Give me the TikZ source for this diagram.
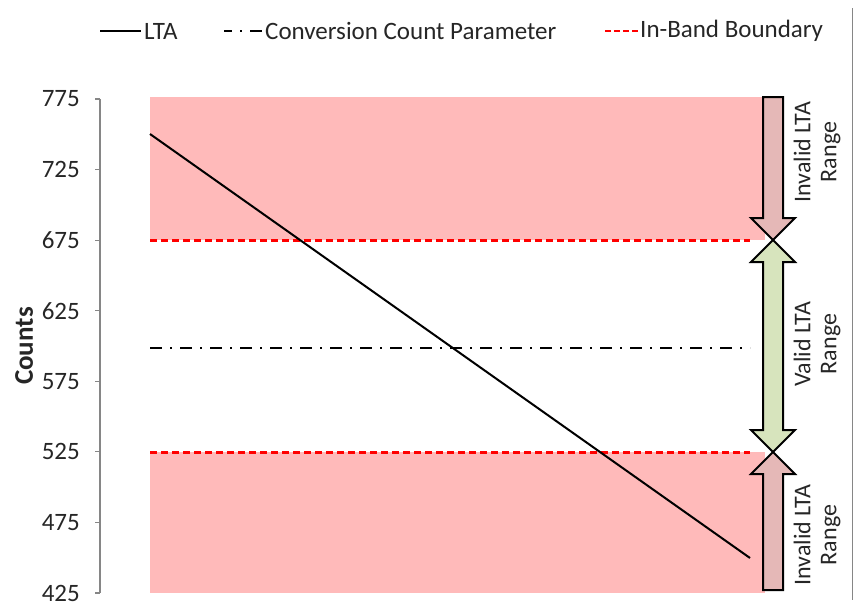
\documentclass[tikz,border=0pt]{standalone}
\usepackage{fontspec}
\setmainfont{Carlito}
\usepackage{tikz}
\pgfdeclarelayer{bg}
\pgfsetlayers{bg,main}
\definecolor{bandpink}{RGB}{255,186,186}
\definecolor{badfill}{RGB}{229,184,183}
\definecolor{goodfill}{RGB}{215,228,189}
\definecolor{axisgray}{RGB}{134,134,134}

\begin{document}
\begin{tikzpicture}[x=1pt, y=-1pt,
    lbl/.style={font=\fontsize{25}{27}\selectfont, inner sep=0pt, text=black!85},
    side/.style={font=\fontsize{24}{26}\selectfont, inner sep=0pt, text=black!85, rotate=90, align=center},
    lta/.style={black, line width=2pt},
    bound/.style={red, line width=3pt, dash pattern=on 7pt off 4pt},
    conv/.style={black, line width=2pt, dash pattern=on 12pt off 8pt on 2pt off 8pt},
    rangearrow/.style={draw=black, line width=2pt, line join=miter}]

    \useasboundingbox (0,0) rectangle (857,606);

    % legend
    \coordinate (k1a) at (100,31);
    \coordinate (k1b) at (141,31);
    \node (klta) [lbl, anchor=west] at (144,31) {LTA};
    \coordinate (k2a) at (224,31);
    \coordinate (k2b) at (262,31);
    \node (kconv) [lbl, anchor=west] at (265,31) {Conversion Count Parameter};
    \coordinate (k3a) at (605,31);
    \coordinate (k3b) at (638,31);
    \node (kband) [lbl, anchor=west] at (640,31) {In-Band Boundary};
    \draw[lta] (k1a) -- (k1b);
    \draw[black, line width=2pt, dash pattern=on 8pt off 8pt on 2pt off 8pt on 12pt off 20pt] (k2a) -- (k2b);
    \draw[red, line width=2.5pt, dash pattern=on 6pt off 3pt] (k3a) -- (k3b);

    % axis
    \draw[axisgray, line width=1.2pt] (100,99) -- (100,593);
    \foreach \v in {425,475,...,775} {
        \draw[axisgray, line width=1.2pt] (95,{99+(775-\v)*1.4114}) -- (100,{99+(775-\v)*1.4114});
        \node (t\v) [lbl, anchor=east] at (80,{99+(775-\v)*1.4114}) {\v};
    }
    \node (ylab) [lbl, font=\fontsize{27}{29}\bfseries\selectfont, rotate=90] at (24,346) {Counts};

    \begin{pgfonlayer}{bg}
        \fill[bandpink] (150,97) rectangle (765,240);
        \fill[bandpink] (150,452) rectangle (765,593);
    \end{pgfonlayer}

    % boundaries and data
    \coordinate (hi0) at (150,240);
    \coordinate (hi1) at (750,240);
    \coordinate (lo0) at (150,452);
    \coordinate (lo1) at (750,452);
    \coordinate (cc0) at (150,348);
    \coordinate (cc1) at (750,348);
    \coordinate (s0) at (150,134);
    \coordinate (s1) at (750,558);
    \draw[bound] (hi0) -- (hi1);
    \draw[bound] (lo0) -- (lo1);
    \draw[conv] (cc0) -- (cc1);
    \draw[lta] (s0) -- (s1);

    % range arrows
    \draw[rangearrow, fill=badfill] (763,97) -- (783,97) -- (783,218) -- (795,218) -- (773,240)
        -- (751,218) -- (763,218) -- cycle;
    \draw[rangearrow, fill=goodfill] (773,240) -- (795,262) -- (783,262) -- (783,430) -- (795,430)
        -- (773,452) -- (751,430) -- (763,430) -- (763,262) -- (751,262) -- cycle;
    \draw[rangearrow, fill=badfill] (773,452) -- (795,474) -- (783,474) -- (783,590) -- (763,590)
        -- (763,474) -- (751,474) -- cycle;

    \node (rtop) [side] at (817,152) {Invalid LTA\\Range};
    \node (rmid) [side] at (817,344) {Valid LTA\\Range};
    \node (rbot) [side] at (817,535) {Invalid LTA\\Range};

    % frame edge
    \draw[axisgray, line width=1pt] (852,8) -- (852,600);
\end{tikzpicture}
\end{document}
